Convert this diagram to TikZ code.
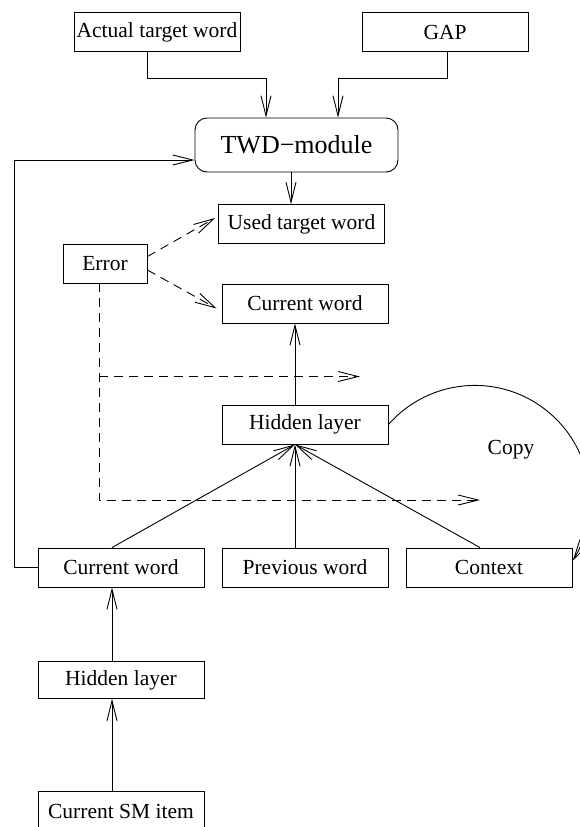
\documentclass[tikz,border=0pt]{standalone}
\usepackage{fontspec}
\setmainfont{Liberation Serif}
\usetikzlibrary{arrows.meta}
\begin{document}
\begin{tikzpicture}[x=1pt,y=-1pt,
  every path/.style={line width=0.9pt},
  lbl/.style={font=\rmfamily\fontsize{21.5}{25}\selectfont},
  box/.style={lbl, draw, line width=0.9pt, minimum width=166pt, minimum height=39pt,
    inner sep=2pt},
  arr/.style={-{Straight Barb[length=20pt,width=10pt,line width=0.9pt]}},
  dsh/.style={arr, dash pattern=on 9pt off 6pt}]
\useasboundingbox (0,0) rectangle (579,827);

% inputs to the TWD module
\node[box] (atw) at (157,32) {Actual target word};
\node[box] (gap) at (445,32) {GAP};
\node[box, rounded corners=12pt, minimum width=203pt, minimum height=54pt,
      font=\rmfamily\fontsize{26}{30}\selectfont] (twd) at (296.5,145) {TWD−module};
\node[box] (utw) at (301.5,224) {Used target word};
\node[box, minimum width=84pt] (err) at (105,263.5) {Error};

% upper network
\node[box] (cw1) at (305,303.5) {Current word};
\node[box] (hid1) at (305,424.5) {Hidden layer};
\node[box] (cw2) at (121,567.5) {Current word};
\node[box] (pw) at (305,567.5) {Previous word};
\node[box] (ctx) at (489,567.5) {Context};

% lower network
\node[box, minimum height=37pt] (hid2) at (121,680) {Hidden layer};
\node[box] (sm) at (121,811) {Current SM item};

\node[lbl] (copy) at (511,450) {Copy};

% connectors into and out of the TWD module
\draw[arr] ([xshift=-10pt]atw.south) -- ++(0,26) -| ([xshift=-30.5pt]twd.north);
\draw[arr] ([xshift=2pt]gap.south) -- ++(0,26) -| ([xshift=41.5pt]twd.north);
\draw[arr] (cw2.west) -- ++(-23,0) |- ([yshift=-15pt]twd.west);
\draw[arr] ([xshift=-5.5pt]twd.south) -- ([xshift=-5.5pt]twd.south |- utw.north);

% error signals
\draw[dsh] ([yshift=7pt]err.east) -- ([xshift=-3pt,yshift=6pt]utw.west);
\draw[dsh] ([yshift=-6.5pt]err.east) -- ([xshift=-5pt,yshift=-5pt]cw1.west);
\coordinate (d1end) at (360,376.5);
\coordinate (d2end) at (480,500);
\draw[dsh] ([xshift=-6pt]err.south) |- (d2end);
\draw[dsh] ([xshift=-6pt]err.south |- d1end) -- (d1end);

% forward connections
\coordinate (hc) at ([xshift=-10pt]hid1.south);
\draw[arr] ([xshift=-10pt]hid1.north) -- ([xshift=-10pt]cw1.south);
\draw[arr] ([xshift=-9pt]cw2.north) -- (hc);
\draw[arr] ([xshift=-10pt]pw.north) -- (hc);
\draw[arr] ([xshift=-9pt]ctx.north) -- (hc);
\draw[arr] ([xshift=-9pt]hid2.north) -- ([xshift=-9pt]cw2.south);
\draw[arr] ([xshift=-9pt]sm.north) -- ([xshift=-9pt]hid2.south);

% copy of the hidden layer into the context
\draw[arr] (hid1.east) arc[start angle=138.7, end angle=-31.6, radius=115pt];
\end{tikzpicture}
\end{document}
